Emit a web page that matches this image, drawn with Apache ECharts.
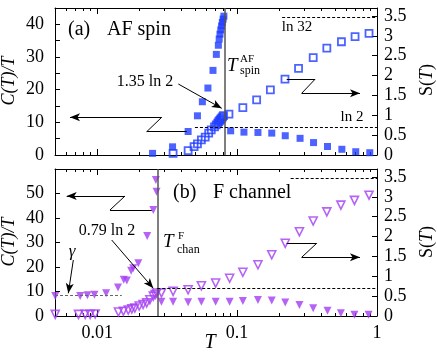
<!DOCTYPE html>
<html>
<head>
<meta charset="utf-8">
<script src="https://cdn.jsdelivr.net/npm/echarts@6/dist/echarts.min.js"></script>
<style>
  html, body { margin: 0; padding: 0; background: #fff; }
  #chart { width: 437px; height: 356px; }
</style>
</head>
<body>
<div id="chart"></div>
<script>
// (a) AF spin : C(T)/T filled squares, S(T) open squares
const afC = [
  [0.0249, 0.5], [0.0346, 2.5], [0.0447, 7.2], [0.0521, 12.0], [0.0565, 16.3],
  [0.0619, 20.5], [0.0673, 25.9], [0.0711, 30.8], [0.0735, 33.6], [0.0745, 35.5],
  [0.0755, 37.0], [0.0765, 38.3], [0.0775, 39.5], [0.0785, 40.6], [0.0795, 41.6],
  [0.0805, 42.5],
  [0.090, 7.4], [0.112, 7.0], [0.141, 6.9], [0.177, 6.7], [0.221, 5.9], [0.282, 5.1],
  [0.352, 3.8], [0.443, 2.6], [0.561, 1.75], [0.705, 1.0], [0.888, 0.7]
];
const afS = [
  [0.0349, 0.04], [0.0447, 0.11], [0.0493, 0.21], [0.0521, 0.28], [0.0556, 0.38],
  [0.0592, 0.45], [0.0627, 0.55], [0.0654, 0.63], [0.0690, 0.71], [0.0710, 0.76],
  [0.0728, 0.80], [0.0740, 0.84], [0.0752, 0.87], [0.0764, 0.90], [0.0776, 0.93],
  [0.0788, 0.96], [0.0800, 0.99], [0.0875, 1.03], [0.110, 1.19], [0.138, 1.39],
  [0.173, 1.64], [0.220, 1.91], [0.275, 2.18], [0.350, 2.45], [0.438, 2.69],
  [0.557, 2.85], [0.697, 2.98], [0.877, 3.06]
];
// (b) F channel : C(T)/T filled triangles, S(T) open triangles
const fC = [
  [0.00502, 8.2], [0.00757, 8.2], [0.00853, 8.5], [0.00957, 8.7], [0.0116, 9.3],
  [0.0141, 11.6], [0.0155, 14.8], [0.0163, 14.5], [0.0175, 18.5], [0.0181, 19.5],
  [0.0197, 21.5], [0.0228, 32.7], [0.0252, 43.3], [0.0266, 50.7], [0.0263, 55.5],
  [0.0288, 5.85], [0.0349, 5.85], [0.0447, 5.6], [0.0556, 5.85], [0.0703, 5.85],
  [0.0885, 5.85], [0.110, 6.1], [0.141, 6.5], [0.177, 6.3], [0.221, 5.5],
  [0.279, 4.5], [0.350, 3.2], [0.443, 2.1], [0.552, 1.1], [0.69, 0.5], [0.87, 0.5]
];
const fS = [
  [0.00502, 0.04], [0.00736, 0.04], [0.00822, 0.04], [0.00892, 0.04], [0.00968, 0.05],
  [0.0142, 0.10], [0.0154, 0.12], [0.0167, 0.15], [0.0177, 0.18], [0.0186, 0.20],
  [0.0200, 0.25], [0.0213, 0.29], [0.0226, 0.33], [0.0238, 0.41], [0.0252, 0.50],
  [0.0260, 0.54], [0.0266, 0.58], [0.0288, 0.58], [0.0349, 0.62], [0.0447, 0.66],
  [0.0556, 0.76], [0.0703, 0.83], [0.0885, 0.95], [0.110, 1.10], [0.141, 1.29],
  [0.177, 1.54], [0.221, 1.83], [0.279, 2.12], [0.350, 2.39], [0.438, 2.62],
  [0.552, 2.79], [0.69, 2.91], [0.877, 3.04]
];

// tick values
const xMajor = [0.01, 0.1, 1];
const xMinor = [0.006, 0.007, 0.008, 0.009, 0.02, 0.03, 0.04, 0.05, 0.06, 0.07, 0.08, 0.09,
                0.2, 0.3, 0.4, 0.5, 0.6, 0.7, 0.8, 0.9];

// reference levels / transition temperatures
const LN2 = Math.log(2), LN32 = Math.log(32);
const tSpin = 0.082, tChan = 0.0269, gammaVal = 8.3;

const blue = '#1f3cff', violet = '#a43cf2';
const serif = 'Liberation Serif';

const chart = echarts.init(document.getElementById('chart'));

function xAxes(grid, labels) {
  const base = { type: 'log', gridIndex: grid, min: 0.005, max: 1, splitLine: { show: false } };
  const line = { show: true, lineStyle: { color: '#000', width: 1 } };
  return [
    Object.assign({}, base, {
      position: 'bottom', axisLine: line,
      axisTick: { inside: true, length: 6, customValues: xMajor, lineStyle: { color: '#000' } },
      axisLabel: labels ? {
        customValues: xMajor, margin: 8, color: '#000', fontFamily: serif, fontSize: 18,
        formatter: v => String(v)
      } : { show: false }
    }),
    Object.assign({}, base, {
      position: 'bottom', axisLine: { show: false },
      axisTick: { inside: true, length: 3, customValues: xMinor, lineStyle: { color: '#000' } },
      axisLabel: { show: false }
    }),
    Object.assign({}, base, {
      position: 'top', axisLine: line,
      axisTick: { inside: true, length: 6, customValues: xMajor, lineStyle: { color: '#000' } },
      axisLabel: { show: false }
    }),
    Object.assign({}, base, {
      position: 'top', axisLine: { show: false },
      axisTick: { inside: true, length: 3, customValues: xMinor, lineStyle: { color: '#000' } },
      axisLabel: { show: false }
    })
  ];
}

function yAxis(grid, pos, max, interval, fmt) {
  return {
    type: 'value', gridIndex: grid, position: pos, min: 0, max: max, interval: interval,
    splitLine: { show: false },
    axisLine: { show: true, lineStyle: { color: '#000', width: 1 } },
    axisTick: { inside: true, length: 5, lineStyle: { color: '#000' } },
    axisLabel: {
      color: '#000', fontFamily: serif, fontSize: 18, showMaxLabel: false,
      margin: pos === 'left' ? 11 : 7, formatter: fmt
    }
  };
}

const arrowLine = { color: '#000', width: 1, type: 'solid' };
const dashLine = { color: '#000', width: 1, type: [3, 2] };
const tLine = { color: '#555', width: 1.5, type: 'solid' };

function seg(a, b, arrow, style) {
  return [
    { coord: a, symbol: 'none', lineStyle: style || arrowLine },
    { coord: b, symbol: arrow ? 'arrow' : 'none', symbolSize: [6, 10] }
  ];
}
function mark(data) {
  return {
    silent: true, animation: false, symbol: 'none', label: { show: false },
    emphasis: { disabled: true }, data: data
  };
}

const option = {
  animation: false,
  grid: [
    { left: 55, top: 8, width: 322, height: 147 },
    { left: 55, top: 169, width: 322, height: 147 }
  ],
  xAxis: xAxes(0, false).concat(xAxes(1, true)),
  yAxis: [
    yAxis(0, 'left', 45, 5, v => (v % 10 === 0 ? String(v) : '')),
    yAxis(0, 'right', 3.7, 0.5),
    yAxis(1, 'left', 60, 10),
    yAxis(1, 'right', 3.7, 0.5)
  ],
  series: [
    {
      type: 'scatter', xAxisIndex: 0, yAxisIndex: 0, data: afC,
      symbol: 'rect', symbolSize: 7, itemStyle: { color: blue },
      markLine: mark([
        seg([tSpin, 0], [tSpin, 45], false, tLine),
        seg([0.02893, 11.54], [0.0064, 11.54], true),
        seg([0.02893, 11.54], [0.02261, 7.13], false),
        seg([0.02261, 7.13], [0.04366, 7.13], false),
        seg([0.2263, 23.17], [0.3605, 23.17], false),
        seg([0.3605, 23.17], [0.2896, 18.89], false),
        seg([0.2896, 18.89], [0.7558, 18.89], true),
        seg([0.03803, 21.73], [0.07766, 14.29], true)
      ])
    },
    {
      type: 'scatter', xAxisIndex: 0, yAxisIndex: 1, data: afS,
      symbol: 'rect', symbolSize: 7,
      itemStyle: { color: 'rgba(0,0,0,0)', borderColor: blue, borderWidth: 1.8 },
      markLine: mark([
        seg([0.05, LN2], [1, LN2], false, dashLine),
        seg([0.21, LN32], [1, LN32], false, dashLine)
      ])
    },
    {
      type: 'scatter', xAxisIndex: 4, yAxisIndex: 2, data: fC,
      symbol: 'triangle', symbolRotate: 180, symbolSize: 8, itemStyle: { color: violet },
      markLine: mark([
        seg([tChan, 0], [tChan, 60], false, tLine),
        seg([0.005, gammaVal], [0.015, gammaVal], false, { color: '#666', width: 1, type: [3, 2] }),
        seg([0.01582, 48.98], [0.006061, 48.98], true),
        seg([0.01582, 48.98], [0.01236, 43.27], false),
        seg([0.01236, 43.27], [0.02455, 43.27], false),
        seg([0.2263, 29.67], [0.3707, 29.67], false),
        seg([0.3707, 29.67], [0.2896, 23.96], false),
        seg([0.2896, 23.96], [0.7558, 23.96], true),
        seg([0.01271, 31.02], [0.0252, 11.31], true),
        seg([0.006759, 22.86], [0.006223, 9.27], true)
      ])
    },
    {
      type: 'scatter', xAxisIndex: 4, yAxisIndex: 3, data: fS,
      symbol: 'triangle', symbolRotate: 180, symbolSize: 8,
      itemStyle: { color: 'rgba(0,0,0,0)', borderColor: violet, borderWidth: 1.6 },
      markLine: mark([
        seg([tChan, LN2], [1, LN2], false, dashLine),
        seg([0.2416, LN32], [1, LN32], false, dashLine)
      ])
    }
  ],
  graphic: [
    txt('(a)', 68, 30, 20, 'left'),
    txt('AF spin', 107, 30, 20, 'left'),
    txt('(b)', 173, 193, 20, 'left'),
    txt('F channel', 213, 193, 20, 'left'),
    txt('1.35 ln 2', 145, 82, 16, 'center'),
    txt('0.79 ln 2', 107, 231, 16, 'center'),
    txt('ln 32', 297, 27, 15, 'center'),
    txt('ln 2', 352, 117, 15, 'center'),
    txt('T', 227, 66, 19, 'left', 'italic'),
    txt('AF', 240, 59, 11, 'left'),
    txt('spin', 240, 71, 12, 'left'),
    txt('T', 163, 242, 19, 'left', 'italic'),
    txt('F', 178, 236, 11, 'left'),
    txt('chan', 177, 250, 12, 'left'),
    txt('γ', 72, 252, 17, 'center', 'italic'),
    txt('T', 210, 343, 20, 'center', 'italic'),
    rot('C(T)/T', 9, 81, 'italic'),
    rot('C(T)/T', 9, 242, 'italic'),
    rotS(427, 80),
    rotS(427, 242)
  ]
};

function txt(s, x, y, size, align, style) {
  return {
    type: 'text', x: x, y: y, silent: true,
    style: {
      text: s, fill: '#000', font: (style || 'normal') + ' ' + size + 'px "' + serif + '"',
      align: align, verticalAlign: 'middle'
    }
  };
}
function rot(s, x, y, style) {
  const t = txt(s, x, y, 18, 'center', style);
  t.rotation = Math.PI / 2;
  return t;
}
function rotS(x, y) {
  return {
    type: 'text', x: x, y: y, rotation: Math.PI / 2, silent: true,
    style: {
      text: '{n|S(}{i|T}{n|)}', align: 'center', verticalAlign: 'middle',
      rich: {
        n: { fontFamily: serif, fontSize: 18, fill: '#000' },
        i: { fontFamily: serif, fontSize: 18, fontStyle: 'italic', fill: '#000' }
      }
    }
  };
}

chart.setOption(option);
</script>
</body>
</html>
